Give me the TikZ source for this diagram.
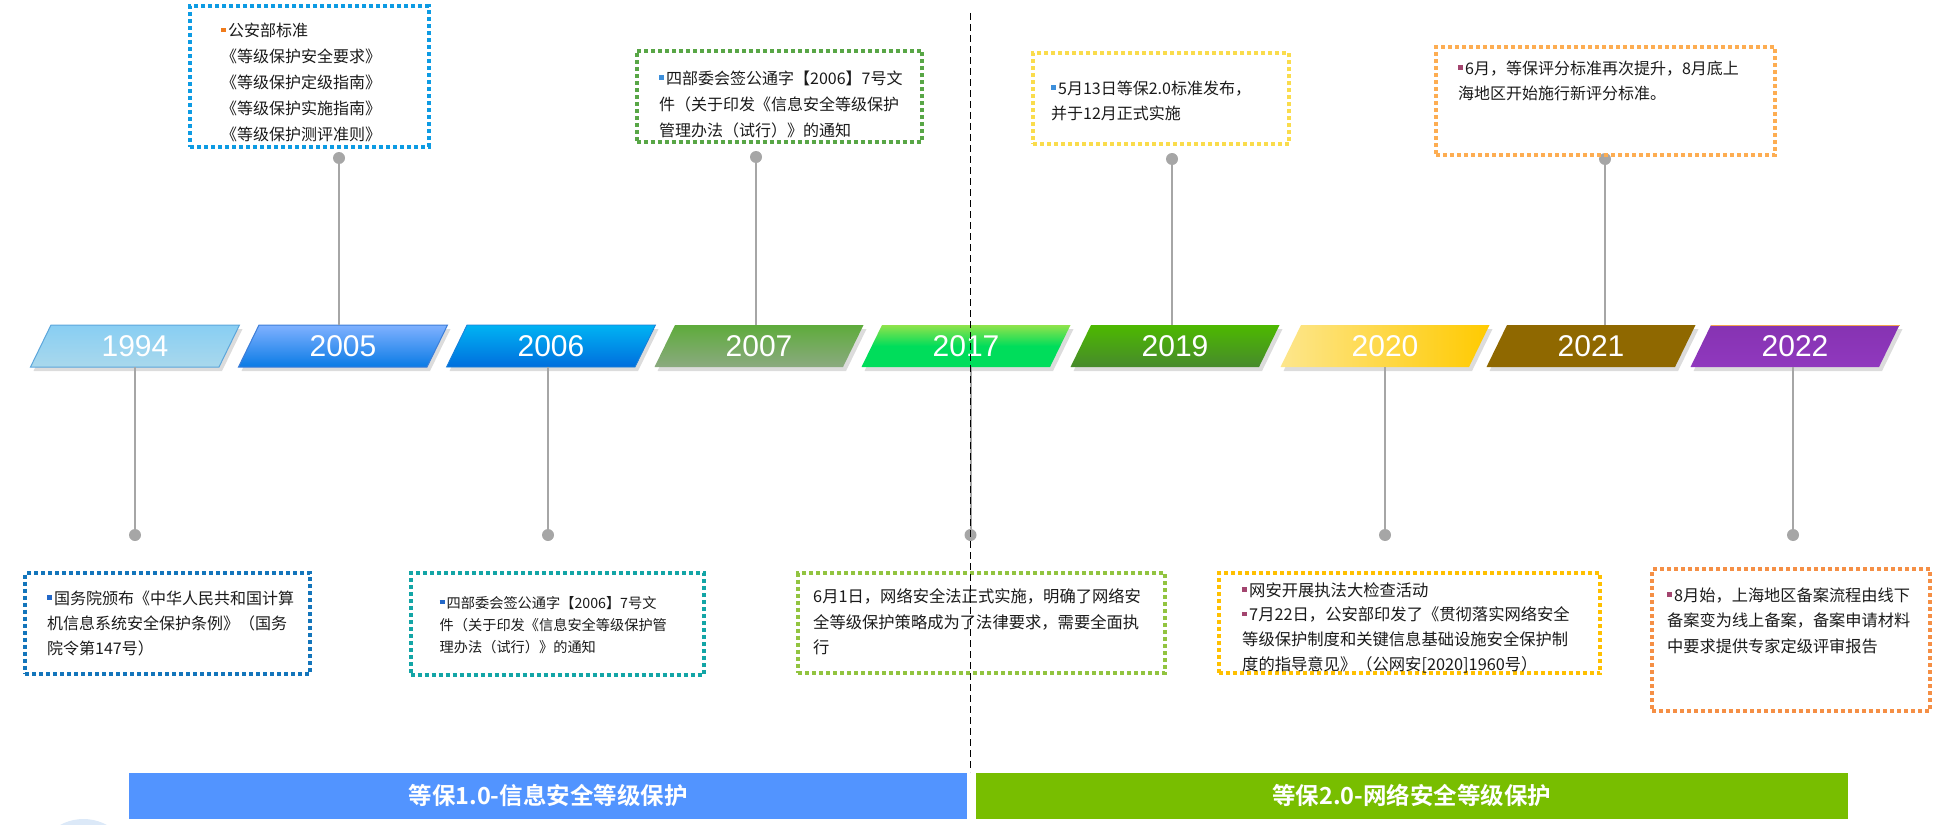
\documentclass[tikz,border=0pt]{standalone}
\usepackage{fontspec}
\setmainfont{Liberation Sans}
\newfontfamily\cjk{Noto Sans CJK SC}[BoldFont={Noto Sans CJK SC Bold}]
\newfontfamily\yearfont{Liberation Sans}
\usetikzlibrary{shadows}

\definecolor{conngray}{HTML}{A6A6A6}
\definecolor{txt}{HTML}{1A1A1A}
\definecolor{bx05}{HTML}{0D9BE3}
\definecolor{bx07}{HTML}{58A646}
\definecolor{bx19}{HTML}{FADC4C}
\definecolor{bx21}{HTML}{FDAD52}
\definecolor{bx94}{HTML}{1375BB}
\definecolor{bx06}{HTML}{13A5A6}
\definecolor{bx17}{HTML}{92C440}
\definecolor{bx20}{HTML}{FFC000}
\definecolor{bx22}{HTML}{F58F45}
\definecolor{bulO}{HTML}{F07B1B}
\definecolor{bulB}{HTML}{3D8FDB}
\definecolor{bulM}{HTML}{A3456F}
\definecolor{bulD}{HTML}{2368C8}
\definecolor{t94}{HTML}{88CEF3}\definecolor{b94}{HTML}{A9D8EC}\definecolor{d94}{HTML}{5CA6DB}
\definecolor{t05}{HTML}{80B1FF}\definecolor{b05}{HTML}{0A7BE5}\definecolor{d05}{HTML}{3D7ED8}
\definecolor{t06}{HTML}{00B3F3}\definecolor{b06}{HTML}{006EDD}\definecolor{d06}{HTML}{1A7FD8}
\definecolor{t07}{HTML}{5EAB3B}\definecolor{b07}{HTML}{8BAA80}
\definecolor{t17}{HTML}{90E34B}\definecolor{m17}{HTML}{00DD5B}\definecolor{b17}{HTML}{00DD5B}
\definecolor{t19}{HTML}{4DB900}\definecolor{b19}{HTML}{478A2C}
\definecolor{l20}{HTML}{FDE68C}\definecolor{r20}{HTML}{FFCA00}
\definecolor{f21}{HTML}{8F6800}
\definecolor{t22}{HTML}{8633B2}\definecolor{b22}{HTML}{9038BE}\definecolor{e22}{HTML}{F4A44E}
\definecolor{barblue}{HTML}{5294FF}
\definecolor{bargreen}{HTML}{78BE00}
\definecolor{paleblue}{HTML}{DCE9F8}

\newcommand\bul[1]{{\color{#1}\rule[4.5pt]{5pt}{4.5pt}}\hspace{2pt}}
\newcommand\yearshape[4]{%
  \path[#3] (#1-104.5,367) -- (#1+84,367) -- (#1+104.5,325) -- (#1-84,325) -- cycle;
  \node[yearlabel] (#2) at (#1,346) {#4};}

\begin{document}
\begin{tikzpicture}[x=1pt,y=-1pt,
  conn/.style={draw=conngray, line width=2pt},
  pin/.style={circle, fill=conngray, minimum size=12pt, inner sep=0pt},
  yearlabel/.style={font=\yearfont\fontsize{30}{30}\selectfont, text=white, minimum width=150pt, minimum height=42pt, inner sep=0pt},
  yshadow/.style={drop shadow={opacity=0.28, shadow xshift=3pt, shadow yshift=-4pt}},
  callbox/.style={draw=#1, line width=4pt, dash pattern=on 4pt off 3pt, inner sep=0pt, rectangle},
  calltext/.style={font=\cjk\fontsize{16}{25}\selectfont, text=txt, align=left, anchor=base west, inner sep=0pt, text width=400pt},
  eratext/.style={font=\cjk\bfseries\fontsize{23.5}{24}\selectfont, text=white, inner sep=0pt, minimum height=46.3pt},
  divider/.style={draw=black, line width=1.8pt, dash pattern=on 7pt off 4pt}
]
\useasboundingbox (0,0) rectangle (1942,824);
\fill[paleblue] (83.5,867.7) circle (48.7);

% year shapes
\yearshape{135}{y1994}{yshadow, top color=t94, bottom color=b94, draw=d94, line width=1pt}{1994}
\yearshape{343}{y2005}{yshadow, top color=t05, bottom color=b05, draw=d05, line width=1pt}{2005}
\yearshape{551}{y2006}{yshadow, top color=t06, bottom color=b06, draw=d06, line width=0.8pt}{2006}
\yearshape{759}{y2007}{yshadow, top color=t07, bottom color=b07}{2007}
\yearshape{966}{y2017}{yshadow, top color=t17, bottom color=b17, middle color=m17}{2017}
\yearshape{1175}{y2019}{yshadow, top color=t19, bottom color=b19}{2019}
\yearshape{1385}{y2020}{yshadow, left color=l20, right color=r20}{2020}
\yearshape{1591}{y2021}{yshadow, fill=f21}{2021}
\yearshape{1795}{y2022}{yshadow, top color=t22, bottom color=b22}{2022}
\draw[e22, line width=1.5pt] (1795-84,325.7) -- (1795+104.5,325.7);

% pins
\node[pin] (d2005) at (339,158) {};
\node[pin] (d2007) at (756,157) {};
\node[pin] (d2019) at (1172,159) {};
\node[pin] (d2021) at (1605,159) {};
\node[pin] (d1994) at (135,535) {};
\node[pin] (d2006) at (548,535) {};
\node[pin] (d2017) at (970.5,535) {};
\node[pin] (d2020) at (1385,535) {};
\node[pin] (d2022) at (1793,535) {};

% connectors
\draw[conn] (d2005) -- (d2005 |- y2005.north);
\draw[conn] (d2007) -- (d2007 |- y2007.north);
\draw[conn] (d2019) -- (d2019 |- y2019.north);
\draw[conn] (d2021) -- (d2021 |- y2021.north);
\draw[conn] (y1994.south -| d1994) -- (d1994);
\draw[conn] (y2006.south -| d2006) -- (d2006);
\draw[conn] (y2017.south -| d2017) -- (d2017);
\draw[conn] (y2020.south -| d2020) -- (d2020);
\draw[conn] (y2022.south -| d2022) -- (d2022);

% callout boxes
\node[callbox=bx05, minimum width=238.2pt, minimum height=140.7pt] (b2005) at (309.4,76.35) {};
\node[callbox=bx07, minimum width=285.7pt, minimum height=91pt] (b2007) at (779.5,96.2) {};
\node[callbox=bx19, minimum width=256.3pt, minimum height=90.7pt] (b2019) at (1161.2,98.7) {};
\node[callbox=bx21, minimum width=338.6pt, minimum height=108.3pt] (b2021) at (1605.5,100.9) {};
\node[callbox=bx94, minimum width=285pt, minimum height=100.7pt] (b1994) at (167.7,623.7) {};
\node[callbox=bx06, minimum width=293.3pt, minimum height=101.4pt] (b2006) at (557.2,624) {};
\node[callbox=bx17, minimum width=366.9pt, minimum height=100pt] (b2017) at (981.9,623.3) {};
\node[callbox=bx20, minimum width=381.7pt, minimum height=100pt] (b2020) at (1409.6,623.3) {};
\node[callbox=bx22, minimum width=277.7pt, minimum height=141.7pt] (b2022) at (1791.3,640.2) {};

% callout texts
\node[calltext, font=\cjk\fontsize{16}{25.8}\selectfont] (t2005) at (221,37) {\bul{bulO}公安部标准\\《等级保护安全要求》\\《等级保护定级指南》\\《等级保护实施指南》\\《等级保护测评准则》};
\node[calltext, font=\cjk\fontsize{16}{26}\selectfont] (t2007) at (659,84.3) {\bul{bulB}四部委会签公通字【2006】7号文\\件（关于印发《信息安全等级保护\\管理办法（试行）》的通知};
\node[calltext] (t2019) at (1051,94.3) {\bul{bulB}5月13日等保2.0标准发布，\\并于12月正式实施};
\node[calltext] (t2021) at (1458,74.3) {\bul{bulM}6月，等保评分标准再次提升，8月底上\\海地区开始施行新评分标准。};
\node[calltext] (t1994) at (47,604.3) {\bul{bulD}国务院颁布《中华人民共和国计算\\机信息系统安全保护条例》（国务\\院令第147号）};
\node[calltext, font=\cjk\fontsize{14.2}{22}\selectfont] (t2006) at (439.5,608.7) {\bul{bulD}四部委会签公通字【2006】7号文\\件（关于印发《信息安全等级保护管\\理办法（试行）》的通知};
\node[calltext, font=\cjk\fontsize{16.3}{25.3}\selectfont] (t2017) at (813,602.7) {6月1日，网络安全法正式实施，明确了网络安\\全等级保护策略成为了法律要求，需要全面执\\行};
\node[calltext, font=\cjk\fontsize{16.3}{24.7}\selectfont] (t2020) at (1242,596) {\bul{bulM}网安开展执法大检查活动\\\bul{bulM}7月22日，公安部印发了《贯彻落实网络安全\\等级保护制度和关键信息基础设施安全保护制\\度的指导意见》（公网安[2020]1960号）};
\node[calltext, font=\cjk\fontsize{16.2}{25.8}\selectfont] (t2022) at (1667,601) {\bul{bulM}8月始，上海地区备案流程由线下\\备案变为线上备案，备案申请材料\\中要求提供专家定级评审报告};

% era bars
\node[fill=barblue, minimum width=838.5pt, minimum height=46.3pt, inner sep=0pt] (era1) at (548.05,795.85) {};
\node[fill=bargreen, minimum width=871.8pt, minimum height=46.3pt, inner sep=0pt] (era2) at (1411.9,795.85) {};
\node[eratext] (era1t) at (era1) {等保1.0-信息安全等级保护};
\node[eratext] (era2t) at (era2) {等保2.0-网络安全等级保护};

% divider
\coordinate (divtop) at (970.5,13);
\coordinate (divbot) at (970.5,772);
\draw[divider] (divtop) -- (divbot);
\end{tikzpicture}
\end{document}
